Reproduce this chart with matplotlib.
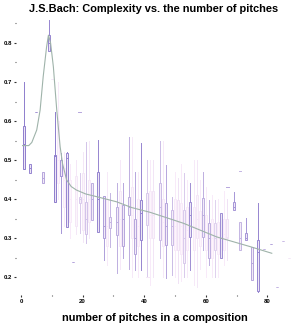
import numpy as np
import matplotlib.pyplot as plt
from matplotlib.ticker import MultipleLocator
from matplotlib.colors import to_rgb

# box statistics per number of pitches
pos     = [1, 3, 5, 7, 9, 10, 11, 12, 13, 14, 15, 16, 17, 18, 19, 20, 21, 22, 23, 25,
           27, 28, 29, 31, 32, 33, 35, 36, 37, 38, 39, 41, 42, 43, 45, 46, 47, 49, 50, 51,
           52, 53, 54, 55, 56, 57, 58, 59, 60, 61, 62, 63, 64, 65, 66, 67, 69, 71, 73, 75,
           77, 79, 81, 83, 85, 87]
whislo  = [0.476, 0.467, 0.622, 0.440, 0.780, 0.708, 0.393, 0.40, 0.313, 0.33, 0.329, 0.30, 0.239, 0.31, 0.313, 0.29, 0.287, 0.30, 0.346, 0.316,
           0.244, 0.23, 0.278, 0.210, 0.22, 0.250, 0.220, 0.20, 0.218, 0.20, 0.218, 0.200, 0.18, 0.200, 0.250, 0.20, 0.197, 0.205, 0.20, 0.185,
           0.19, 0.200, 0.20, 0.218, 0.18, 0.175, 0.22, 0.269, 0.20, 0.231, 0.20, 0.200, 0.20, 0.248, 0.23, 0.244, 0.372, 0.269, 0.295, 0.192,
           0.162, 0.273, 0.284, 0.175, 0.292, 0.249]
q1      = [0.476, 0.467, 0.622, 0.440, 0.780, 0.708, 0.393, 0.44, 0.460, 0.38, 0.329, 0.34, 0.239, 0.33, 0.390, 0.32, 0.310, 0.34, 0.346, 0.316,
           0.300, 0.28, 0.326, 0.308, 0.28, 0.280, 0.359, 0.30, 0.260, 0.28, 0.295, 0.333, 0.30, 0.300, 0.295, 0.28, 0.282, 0.282, 0.27, 0.269,
           0.26, 0.236, 0.27, 0.303, 0.27, 0.300, 0.28, 0.303, 0.27, 0.248, 0.25, 0.269, 0.26, 0.248, 0.27, 0.300, 0.372, 0.269, 0.295, 0.192,
           0.165, 0.273, 0.284, 0.175, 0.292, 0.249]
med     = [0.540, 0.480, 0.622, 0.455, 0.800, 0.708, 0.510, 0.50, 0.460, 0.45, 0.505, 0.40, 0.239, 0.40, 0.400, 0.40, 0.350, 0.40, 0.400, 0.400,
           0.330, 0.33, 0.340, 0.340, 0.35, 0.350, 0.380, 0.36, 0.300, 0.33, 0.363, 0.370, 0.36, 0.360, 0.380, 0.34, 0.330, 0.330, 0.33, 0.340,
           0.33, 0.300, 0.32, 0.360, 0.33, 0.350, 0.32, 0.360, 0.32, 0.300, 0.30, 0.300, 0.30, 0.300, 0.31, 0.303, 0.380, 0.300, 0.300, 0.236,
           0.265, 0.273, 0.284, 0.175, 0.292, 0.249]
q3      = [0.587, 0.490, 0.622, 0.470, 0.820, 0.708, 0.513, 0.60, 0.500, 0.48, 0.517, 0.45, 0.239, 0.46, 0.406, 0.467, 0.393, 0.45, 0.440, 0.470,
           0.408, 0.40, 0.355, 0.380, 0.42, 0.386, 0.406, 0.43, 0.350, 0.40, 0.397, 0.415, 0.42, 0.420, 0.440, 0.40, 0.389, 0.372, 0.40, 0.397,
           0.39, 0.372, 0.38, 0.393, 0.38, 0.410, 0.37, 0.402, 0.36, 0.338, 0.35, 0.338, 0.34, 0.365, 0.35, 0.350, 0.393, 0.342, 0.312, 0.278,
           0.295, 0.273, 0.284, 0.175, 0.292, 0.249]
whishi  = [0.700, 0.490, 0.622, 0.470, 0.860, 0.708, 0.624, 0.70, 0.518, 0.52, 0.520, 0.49, 0.239, 0.50, 0.467, 0.52, 0.547, 0.55, 0.440, 0.551,
           0.408, 0.47, 0.415, 0.440, 0.50, 0.440, 0.558, 0.56, 0.470, 0.47, 0.543, 0.500, 0.50, 0.500, 0.550, 0.55, 0.487, 0.406, 0.47, 0.453,
           0.49, 0.467, 0.45, 0.440, 0.50, 0.500, 0.45, 0.470, 0.43, 0.397, 0.41, 0.397, 0.40, 0.365, 0.42, 0.400, 0.419, 0.342, 0.351, 0.278,
           0.389, 0.273, 0.284, 0.175, 0.292, 0.249]
weight  = [0.85, 0.80, 0.70, 0.60, 0.80, 0.10, 0.85, 0.06, 0.70, 0.06, 0.80, 0.06, 0.60, 0.10, 0.35, 0.10, 0.40, 0.08, 0.55, 0.80,
           0.65, 0.08, 0.50, 0.55, 0.08, 0.60, 0.55, 0.08, 0.60, 0.06, 0.80, 0.35, 0.06, 0.12, 0.45, 0.08, 0.60, 0.45, 0.06, 0.15,
           0.06, 0.35, 0.06, 0.75, 0.08, 0.10, 0.06, 0.55, 0.06, 0.55, 0.06, 0.30, 0.06, 0.75, 0.06, 0.15, 0.70, 0.50, 0.70, 0.60,
           0.80, 0.50, 0.60, 0.50, 0.45, 0.10]

# single stray compositions
extra_x = [19, 67, 71, 41]
extra_y = [0.622, 0.432, 0.472, 0.200]
extra_w = [0.60, 0.60, 0.50, 0.10]

# smoothed trend
trend_x = [0.5, 2.5, 3.5, 5.1, 6.2, 7.2, 8.3, 8.9, 9.6, 10.5, 11.6, 12.7, 13.5, 14.8,
           16.3, 18, 21, 24.6, 31, 36, 41.9, 52.7, 63.5, 74.4, 81.4]
trend_y = [0.537, 0.537, 0.545, 0.577, 0.628, 0.714, 0.79, 0.82, 0.80, 0.739, 0.628, 0.534, 0.49, 0.449,
           0.432, 0.423, 0.413, 0.406, 0.393, 0.378, 0.366, 0.338, 0.303, 0.278, 0.261]

pale = np.array(to_rgb("#fbeefa"))
deep = np.array(to_rgb("#7462c2"))


def shade(w):
    w = w ** 1.3
    return tuple(pale + (deep - pale) * w)


fig = plt.figure(figsize=(3.0, 3.27), dpi=100)
ax = fig.add_axes([16.4 / 300, 0.099, 275.7 / 300, 0.865])

stats = []
for i in range(len(pos)):
    stats.append(dict(med=med[i], q1=q1[i], q3=q3[i], whislo=whislo[i], whishi=whishi[i], fliers=[]))

bp = ax.bxp(stats, positions=pos, widths=0.65, showcaps=False, patch_artist=True,
            manage_ticks=False)
for i, w in enumerate(weight):
    c = shade(w)
    bp["boxes"][i].set_facecolor((*shade(w * 0.4), 0.5))
    bp["boxes"][i].set_edgecolor(c)
    bp["boxes"][i].set_linewidth(0.7)
    bp["medians"][i].set_color(c)
    bp["medians"][i].set_linewidth(0.7)
    for wh in bp["whiskers"][2 * i:2 * i + 2]:
        wh.set_color(c)
        wh.set_linewidth(0.7)

for x, y, w in zip(extra_x, extra_y, extra_w):
    ax.plot([x - 0.4, x + 0.4], [y, y], color=shade(w), lw=0.7)

ax.plot(trend_x, trend_y, color="#9fb3aa", lw=0.8, zorder=5)

ax.set_xlim(-1.5, 88)
ax.set_ylim(0.155, 0.88)
for s in ax.spines.values():
    s.set_visible(False)

ax.set_xticks([0, 20, 40, 60, 80])
ax.set_xticklabels(["0", "20", "40", "60", "80"])
ax.set_yticks([0.2, 0.3, 0.4, 0.5, 0.6, 0.7, 0.8])
ax.set_yticklabels(["0.2", "0.3", "0.4", "0.5", "0.6", "0.7", "0.8"])
ax.xaxis.set_minor_locator(MultipleLocator(10))
ax.yaxis.set_minor_locator(MultipleLocator(0.05))
ax.tick_params(which="major", length=1.5, width=0.8, color="#333333", labelsize=4.3, pad=1.5)
ax.tick_params(which="minor", length=1, width=0.8, color="#555555")
for lab in ax.get_xticklabels() + ax.get_yticklabels():
    lab.set_fontweight("bold")
    lab.set_family("Liberation Sans")

fig.text(0.512, 1 - 9 / 327, "J.S.Bach: Complexity vs. the number of pitches",
         ha="center", va="center", fontsize=7.9, fontweight="bold", family="Liberation Sans")
fig.text(0.515, 1 - 318 / 327, "number of pitches in a composition",
         ha="center", va="center", fontsize=7.9, fontweight="bold", family="Liberation Sans")

fig.savefig("out.png", dpi=100)
